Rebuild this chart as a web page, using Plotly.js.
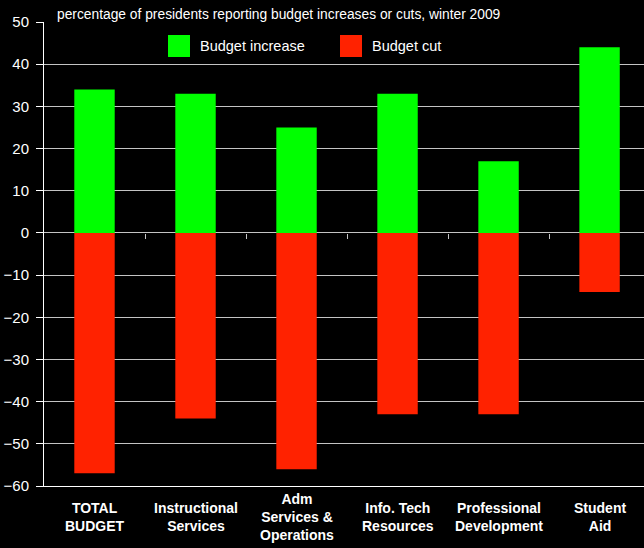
<!DOCTYPE html>
<html>
<head>
<meta charset="utf-8">
<script src="https://cdn.plot.ly/plotly-3.0.1.min.js"></script>
<style>
html,body{margin:0;padding:0;background:#000;}
#chart{width:644px;height:548px;}
</style>
</head>
<body>
<div id="chart"></div>
<script>
const categories = ["TOTAL<br>BUDGET", "Instructional<br>Services", "Adm<br>Services &amp;<br>Operations", "Info. Tech<br>Resources", "Professional<br>Development", "Student<br>Aid"];
const budgetIncrease = [34, 33, 25, 33, 17, 44];
const budgetCut = [-57, -44, -56, -43, -43, -14];
const seriesNames = ["Budget increase", "Budget cut"];
const titleText = "percentage of presidents reporting budget increases or cuts, winter 2009";
const yTicks = [50, 40, 30, 20, 10, 0, -10, -20, -30, -40, -50, -60];
const boundaryTicks = [0.5, 1.5, 2.5, 3.5, 4.5];

const GREEN = "#00ff00", RED = "#ff2200";
const GRID = "#c4c4c4";
const sans = '"Liberation Sans", Arial, sans-serif';

const traces = [
  {type: "bar", x: categories, y: budgetIncrease, name: seriesNames[0], width: 0.4,
   marker: {color: GREEN, line: {width: 0}}, showlegend: false, hoverinfo: "skip"},
  {type: "bar", x: categories, y: budgetCut, name: seriesNames[1], width: 0.4,
   marker: {color: RED, line: {width: 0}}, showlegend: false, hoverinfo: "skip"},
  {type: "scatter", mode: "markers", x: [0], y: [0], xaxis: "x2", yaxis: "y",
   marker: {opacity: 0, size: 1}, showlegend: false, hoverinfo: "skip"}
];

const annotations = categories.map((c, i) => ({
  x: c, xref: "x", y: -0.067, yref: "paper", text: c, showarrow: false,
  xanchor: "center", yanchor: "middle", align: "center",
  font: {family: sans, size: 14, color: "#ffffff", weight: "bold"}
}));
annotations.push(
  {x: 0.2567, xref: "paper", y: 0.948, yref: "paper", text: seriesNames[0], showarrow: false,
   xanchor: "left", yanchor: "middle", font: {family: sans, size: 14.5, color: "#ffffff"}},
  {x: 0.543, xref: "paper", y: 0.948, yref: "paper", text: seriesNames[1], showarrow: false,
   xanchor: "left", yanchor: "middle", font: {family: sans, size: 14.5, color: "#ffffff"}}
);

const shapes = [
  {type: "rect", xref: "paper", yref: "paper", x0: 0.2067, x1: 0.2433, y0: 0.9246, y1: 0.972,
   fillcolor: GREEN, line: {width: 0}},
  {type: "rect", xref: "paper", yref: "paper", x0: 0.4933, x1: 0.53, y0: 0.9246, y1: 0.972,
   fillcolor: RED, line: {width: 0}}
];

const layout = {
  width: 644, height: 548,
  paper_bgcolor: "#000000", plot_bgcolor: "#000000",
  margin: {l: 44, r: 0, t: 22, b: 62},
  barmode: "relative",
  title: {text: titleText, xref: "container", x: 0.0885, xanchor: "left",
          yref: "container", y: 0.975, yanchor: "middle",
          font: {family: sans, size: 13.8, color: "#ffffff"}},
  xaxis: {type: "category", range: [-0.5, 5.44], showticklabels: false, ticks: "",
          showgrid: false, zeroline: false, showline: true, linecolor: "#ffffff", linewidth: 1,
          fixedrange: true},
  xaxis2: {type: "linear", overlaying: "x", anchor: "free", position: 0.5453, range: [-0.5, 5.44],
           tickmode: "array", tickvals: boundaryTicks, showticklabels: false, ticks: "outside",
           ticklen: 5, tickcolor: GRID, tickwidth: 1, showgrid: false, zeroline: false, showline: false},
  yaxis: {range: [-60, 50], tickmode: "array", tickvals: yTicks, ticks: "outside", ticklen: 7,
          tickcolor: "#ffffff", showline: true, linecolor: "#ffffff", linewidth: 1,
          showgrid: true, gridcolor: GRID, gridwidth: 1, zeroline: true, zerolinecolor: GRID,
          zerolinewidth: 1, ticklabelstandoff: 4,
          tickfont: {family: sans, size: 15, color: "#ffffff"}},
  annotations: annotations,
  shapes: shapes,
  showlegend: false
};

Plotly.newPlot("chart", traces, layout, {displayModeBar: false, staticPlot: true});
</script>
</body>
</html>
